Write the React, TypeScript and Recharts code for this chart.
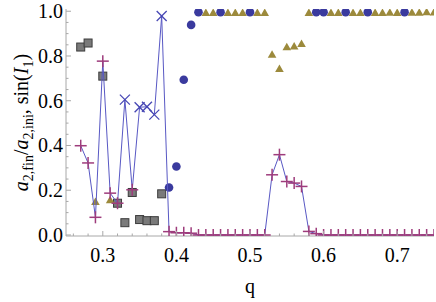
import React from "react";
import { Scatter, ScatterChart, XAxis, YAxis } from "recharts";

// a2,fin / a2,ini  (q = 0.27 ... 0.75, step 0.01)
const a2Q = [
  0.27, 0.28, 0.29, 0.3, 0.31, 0.32, 0.33, 0.34, 0.35, 0.36, 0.37, 0.38, 0.39, 0.4, 0.41, 0.42,
  0.43, 0.44, 0.45, 0.46, 0.47, 0.48, 0.49, 0.5, 0.51, 0.52,
  0.53, 0.54, 0.55, 0.56, 0.57, 0.58, 0.59,
  0.6, 0.61, 0.62, 0.63, 0.64, 0.65, 0.66, 0.67, 0.68, 0.69, 0.7, 0.71, 0.72, 0.73, 0.74, 0.75,
];
const a2Values = [
  0.399, 0.322, 0.079, 0.777, 0.187, 0.142, 0.605, 0.202, 0.571, 0.573, 0.538, 0.979, 0.015, 0.01, 0.01, 0.008,
  0, 0, 0, 0, 0, 0, 0, 0, 0, 0,
  0.269, 0.359, 0.239, 0.232, 0.217, 0.016, 0.006,
  0, 0, 0, 0, 0, 0, 0, 0, 0, 0, 0, 0, 0, 0, 0, 0,
];
// points drawn with an "x" instead of a "+"
const crossQ = [0.33, 0.35, 0.36, 0.37, 0.38];

// sin(I1)
const squareQ = [0.27, 0.28, 0.3, 0.32, 0.33, 0.34, 0.35, 0.36, 0.37, 0.38];
const squareV = [0.84, 0.858, 0.71, 0.142, 0.055, 0.19, 0.069, 0.064, 0.064, 0.184];

const triangleQ = [
  0.29, 0.31, 0.44, 0.45, 0.47, 0.48, 0.49, 0.51, 0.52, 0.53, 0.54, 0.55, 0.56, 0.57, 0.58,
  0.61, 0.62, 0.64, 0.65, 0.67, 0.68, 0.69, 0.7, 0.72, 0.73, 0.74, 0.75,
];
const triangleV = [
  0.149, 0.157, 0.994, 0.994, 0.994, 0.994, 0.994, 0.994, 0.994, 0.807, 0.743, 0.84, 0.844, 0.855, 0.994,
  0.994, 0.994, 0.994, 0.994, 0.994, 0.994, 0.995, 0.994, 0.995, 0.995, 0.997, 0.996,
];

const circleQ = [0.39, 0.4, 0.41, 0.42, 0.43, 0.46, 0.5, 0.59, 0.6, 0.63, 0.66, 0.71];
const circleV = [0.212, 0.306, 0.694, 0.939, 0.996, 0.996, 0.996, 0.996, 0.996, 0.996, 0.996, 0.996];

const xTicks = [
  0.26, 0.28, 0.3, 0.32, 0.34, 0.36, 0.38, 0.4, 0.42, 0.44, 0.46, 0.48, 0.5,
  0.52, 0.54, 0.56, 0.58, 0.6, 0.62, 0.64, 0.66, 0.68, 0.7, 0.72, 0.74,
];
const yTicks = [
  0, 0.05, 0.1, 0.15, 0.2, 0.25, 0.3, 0.35, 0.4, 0.45, 0.5, 0.55, 0.6, 0.65, 0.7, 0.75, 0.8, 0.85, 0.9, 0.95, 1,
];

const a2Data = a2Q.map((q, i) => ({ q, v: a2Values[i], cross: crossQ.includes(q) }));
const squareData = squareQ.map((q, i) => ({ q, v: squareV[i] }));
const triangleData = triangleQ.map((q, i) => ({ q, v: triangleV[i] }));
const circleData = circleQ.map((q, i) => ({ q, v: circleV[i] }));

const FONT = "'Liberation Serif', 'Times New Roman', serif";
const FRAME = "#a8a8a8";

const isMajorX = (v: number) => Math.abs(v * 10 - Math.round(v * 10)) < 1e-6;
const isMajorY = (v: number) => Math.abs(v * 5 - Math.round(v * 5)) < 1e-6;

const makeTick = (side: string, label: boolean) => (p: any) => {
  const { x, y, payload } = p;
  const v = payload.value;
  const major = side === "bottom" || side === "top" ? isMajorX(v) : isMajorY(v);
  const len = major ? 5 : 2.5;
  let line;
  if (side === "bottom") line = <line x1={x} y1={y} x2={x} y2={y - len} />;
  else if (side === "top") line = <line x1={x} y1={y} x2={x} y2={y + len} />;
  else if (side === "left") line = <line x1={x} y1={y} x2={x + len} y2={y} />;
  else line = <line x1={x} y1={y} x2={x - len} y2={y} />;
  return (
    <g stroke={FRAME} strokeWidth={1}>
      {line}
      {label && major && side === "bottom" && (
        <text x={x} y={y + 26} textAnchor="middle" stroke="none" fill="#000" fontSize={20} fontFamily={FONT}>
          {v.toFixed(1)}
        </text>
      )}
      {label && major && side === "left" && (
        <text x={x - 3} y={y + 7} textAnchor="end" stroke="none" fill="#000" fontSize={20} fontFamily={FONT}>
          {v.toFixed(1)}
        </text>
      )}
    </g>
  );
};

const SquareMark = (p: any) => (
  <rect x={p.cx - 4} y={p.cy - 4} width={8} height={8} fill="#7a7a7a" stroke="#3c3c3c" strokeWidth={1} />
);

const TriangleMark = (p: any) => (
  <path d={`M${p.cx},${p.cy - 4.2}L${p.cx + 4.3},${p.cy + 3.3}L${p.cx - 4.3},${p.cy + 3.3}Z`} fill="#9c8a3c" />
);

const CircleMark = (p: any) => <circle cx={p.cx} cy={p.cy} r={4.3} fill="#3a3a9e" />;

const A2Mark = (p: any) => {
  const { cx, cy, payload } = p;
  if (payload.cross) {
    return (
      <g stroke="#4646b4" strokeWidth={1.3}>
        <line x1={cx - 5} y1={cy - 5} x2={cx + 5} y2={cy + 5} />
        <line x1={cx - 5} y1={cy + 5} x2={cx + 5} y2={cy - 5} />
      </g>
    );
  }
  return (
    <g stroke="#9e3c7c" strokeWidth={1.5}>
      <line x1={cx - 6} y1={cy} x2={cx + 6} y2={cy} />
      <line x1={cx} y1={cy - 6} x2={cx} y2={cy + 6} />
    </g>
  );
};

const YLabel = (props: any) => {
  const vb = props.viewBox;
  const cx = vb.x + 28;
  const cy = vb.y + vb.height / 2;
  return (
    <text
      x={cx}
      y={cy}
      textAnchor="middle"
      transform={`rotate(-90, ${cx}, ${cy})`}
      fontFamily={FONT}
      fontSize={20}
      fill="#000"
    >
      <tspan fontStyle="italic">a</tspan>
      <tspan fontSize={14} dy={5}>2,fin</tspan>
      <tspan dy={-5}>/</tspan>
      <tspan fontStyle="italic">a</tspan>
      <tspan fontSize={14} dy={5}>2,ini</tspan>
      <tspan dy={-5}>, sin(</tspan>
      <tspan fontStyle="italic">I</tspan>
      <tspan fontSize={14} dy={5}>1</tspan>
      <tspan dy={-5}>)</tspan>
    </text>
  );
};

const XLabel = (props: any) => {
  const vb = props.viewBox;
  return (
    <text x={vb.x + vb.width / 2} y={vb.y + 57} textAnchor="middle" fontFamily={FONT} fontSize={20} fill="#000">
      q
    </text>
  );
};

export default function App() {
  return (
    <div style={{ position: "absolute", left: 0, top: 0 }}>
      <ScatterChart width={436} height={302} margin={{ top: 9, right: 2, bottom: 0, left: 0 }}>
        <XAxis
          type="number"
          dataKey="q"
          domain={[0.25, 0.75]}
          ticks={xTicks}
          interval={0}
          allowDataOverflow
          height={66}
          tickSize={0}
          tickMargin={0}
          tickLine={false}
          axisLine={{ stroke: FRAME }}
          tick={makeTick("bottom", true)}
          label={{ content: XLabel }}
        />
        <XAxis
          xAxisId="top"
          orientation="top"
          type="number"
          dataKey="q"
          domain={[0.25, 0.75]}
          ticks={xTicks}
          interval={0}
          allowDataOverflow
          height={0}
          tickSize={0}
          tickMargin={0}
          tickLine={false}
          axisLine={{ stroke: FRAME }}
          tick={makeTick("top", false)}
        />
        <YAxis
          type="number"
          dataKey="v"
          domain={[-0.0045, 1.01]}
          ticks={yTicks}
          interval={0}
          allowDataOverflow
          width={66}
          tickSize={0}
          tickMargin={0}
          tickLine={false}
          axisLine={{ stroke: FRAME }}
          tick={makeTick("left", true)}
          label={{ content: YLabel }}
        />
        <YAxis
          yAxisId="right"
          orientation="right"
          type="number"
          dataKey="v"
          domain={[-0.0045, 1.01]}
          ticks={yTicks}
          interval={0}
          allowDataOverflow
          width={0}
          tickSize={0}
          tickMargin={0}
          tickLine={false}
          axisLine={{ stroke: FRAME }}
          tick={makeTick("right", false)}
        />
        <Scatter data={squareData} shape={SquareMark} isAnimationActive={false} />
        <Scatter data={triangleData} shape={TriangleMark} isAnimationActive={false} />
        <Scatter data={circleData} shape={CircleMark} isAnimationActive={false} />
        <Scatter
          data={a2Data}
          shape={A2Mark}
          line={{ stroke: "#5858c4", strokeWidth: 1 }}
          lineType="joint"
          isAnimationActive={false}
        />
      </ScatterChart>
    </div>
  );
}
